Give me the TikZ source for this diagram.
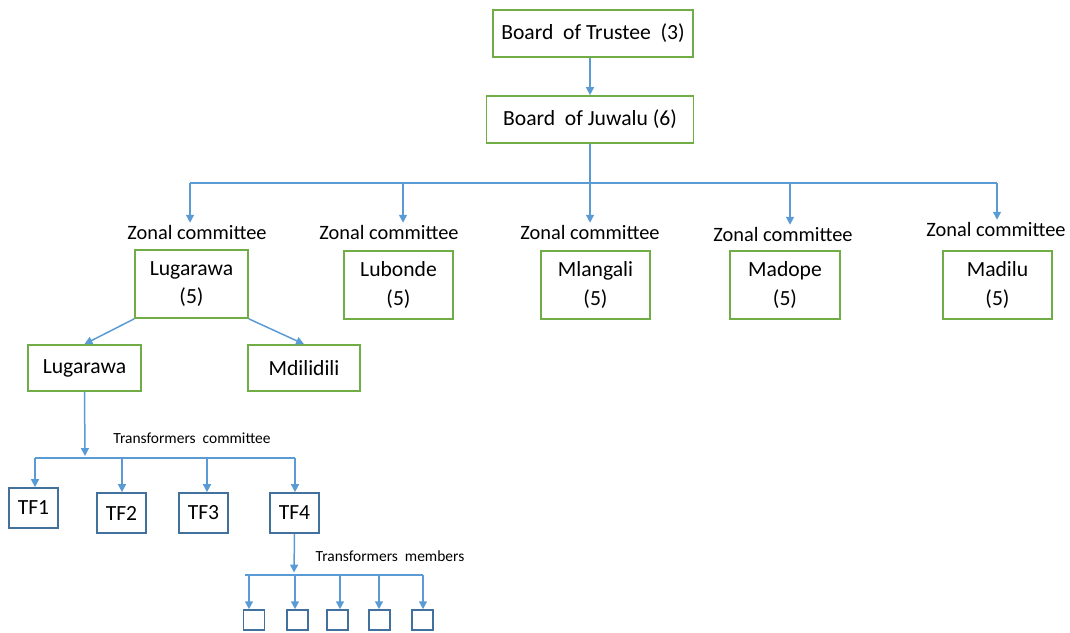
\documentclass[tikz,border=0pt]{standalone}
\usepackage{fontspec}
\setmainfont{Carlito}
\usepackage{xcolor}
\usetikzlibrary{arrows.meta, positioning}

\definecolor{boxgreen}{HTML}{70AD47}
\definecolor{linkblue}{HTML}{5B9BD5}
\definecolor{tfblue}{HTML}{41719C}

\begin{document}
\begin{tikzpicture}[
  x=0.02cm, y=-0.02cm,
  font=\fontsize{12.3}{16}\selectfont,
  gbox/.style={rectangle, draw=boxgreen, line width=1pt, align=center,
               inner sep=0pt, minimum height=0.94cm},
  zbox/.style={gbox, minimum width=2.2cm, minimum height=1.36cm},
  tfbox/.style={rectangle, draw=tfblue, line width=1pt, inner sep=0pt,
                minimum width=0.98cm, minimum height=0.8cm},
  mbox/.style={rectangle, draw=tfblue, line width=0.9pt, inner sep=0pt,
               minimum width=0.42cm, minimum height=0.4cm},
  zlabel/.style={font=\fontsize{11.6}{14}\selectfont, inner sep=1pt},
  smalllabel/.style={font=\fontsize{8.8}{10}\selectfont, inner sep=1pt},
  line/.style={draw=linkblue, line width=0.85pt},
  arr/.style={line, -{Triangle[length=4.5pt,width=4.5pt]}}
]
\useasboundingbox (0,0) rectangle (1070,632);

% Nodes
\node[gbox, minimum width=4cm]    (trustee) at (593,33.5)  {Board\ \ of Trustee\ \ (3)};
\node[gbox, minimum width=4.14cm] (juwalu)  at (590,119.5) {Board\ \ of Juwalu\ (6)};

\node[zlabel] (zlab1) at (197,232) {Zonal committee};
\node[zlabel] (zlab2) at (389,232) {Zonal committee};
\node[zlabel] (zlab3) at (590,232) {Zonal committee};
\node[zlabel] (zlab4) at (783,234) {Zonal committee};
\node[zlabel] (zlab5) at (996,229) {Zonal committee};

\node[zbox, minimum width=2.26cm] (zlug) at (191.5,284) {Lugarawa\\(5)};
\node[zbox, minimum width=2.18cm] (zlub) at (398.5,285) {Lubonde\\(5)};
\node[zbox, minimum width=2.18cm] (zmla) at (595.5,285) {Mlangali\\(5)};
\node[zbox, minimum width=2.2cm]  (zmad) at (785,285)   {Madope\\(5)};
\node[zbox, minimum width=2.18cm] (zmdl) at (997.5,285) {Madilu\\(5)};

\node[gbox, minimum width=2.26cm, minimum height=0.92cm] (lug)  at (84.5,368) {Lugarawa};
\node[gbox, minimum width=2.24cm, minimum height=0.92cm] (mdil) at (304,368)  {Mdilidili};

\node[smalllabel] (tclab) at (192,438) {Transformers\ \ committee};

\node[tfbox] (tf1) at (33.5,508)  {TF1};
\node[tfbox] (tf2) at (121.5,513) {TF2};
\node[tfbox] (tf3) at (203.5,513) {TF3};
\node[tfbox] (tf4) at (294.5,513) {TF4};

\node[smalllabel] (tmlab) at (390,556) {Transformers\ \ members};

\node[mbox] (mem1) at (254,620)   {};
\node[mbox] (mem2) at (297.5,620) {};
\node[mbox] (mem3) at (337.5,620) {};
\node[mbox] (mem4) at (379.5,620) {};
\node[mbox] (mem5) at (422.5,620) {};

% Helper coordinates
\coordinate (zb1) at (190,183);
\coordinate (zb2) at (403,183);
\coordinate (zb3) at (590,183);
\coordinate (zb4) at (790,183);
\coordinate (zb5) at (997,183);

\coordinate (tb0) at (85,458);
\coordinate (tb1) at (35,458);
\coordinate (tb2) at (122,458);
\coordinate (tb3) at (207,458);
\coordinate (tb4) at (295,458);

\coordinate (mb0) at (294,575);
\coordinate (mb1) at (249,575);
\coordinate (mb2) at (295,575);
\coordinate (mb3) at (340,575);
\coordinate (mb4) at (379,575);
\coordinate (mb5) at (423,575);

% Boards
\draw[arr] (juwalu.north |- trustee.south) -- (juwalu.north);
\draw[line] (juwalu.south) -- (zb3);

% Zonal bus and drops
\draw[line] (zb1) -- (zb5);
\draw[arr] (zb1) -- (zb1 |- zlab1.north);
\draw[arr] (zb2) -- (zb2 |- zlab2.north);
\draw[arr] (zb3) -- (zb3 |- zlab3.north);
\draw[arr] (zb4) -- (zb4 |- zlab4.north);
\draw[arr] (zb5) -- (zb5 |- zlab5.north);

% Lugarawa split
\draw[arr] (zlug.south west) -- (lug.north);
\draw[arr] (zlug.south east) -- (mdil.north);

% Transformers committee
\draw[arr] (lug.south) -- ([yshift=0.04cm]tb0);
\draw[line] (tb1) -- (tb4);
\draw[arr] (tb1) -- (tb1 |- tf1.north);
\draw[arr] (tb2) -- (tb2 |- tf2.north);
\draw[arr] (tb3) -- (tb3 |- tf3.north);
\draw[arr] (tb4) -- (tb4 |- tf4.north);

% Transformers members
\draw[arr] (tf4.south) -- ([yshift=0.05cm]mb0);
\draw[line] ([xshift=-0.08cm]mb1) -- (mb5);
\draw[arr] (mb1) -- (mb1 |- mem1.north);
\draw[arr] (mb2) -- (mb2 |- mem2.north);
\draw[arr] (mb3) -- (mb3 |- mem3.north);
\draw[arr] (mb4) -- (mb4 |- mem4.north);
\draw[arr] (mb5) -- (mb5 |- mem5.north);

\end{tikzpicture}
\end{document}
